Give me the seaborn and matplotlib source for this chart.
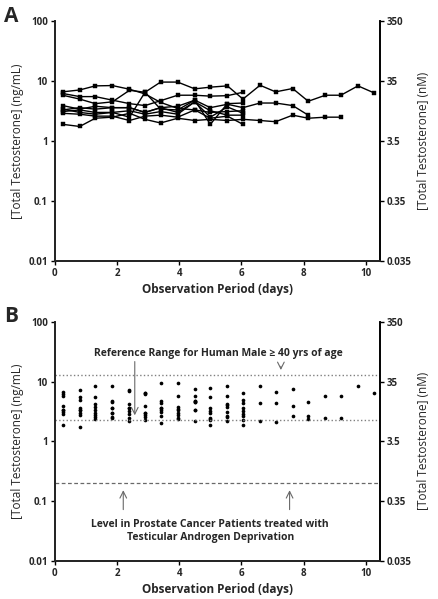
import numpy as np
import pandas as pd
import matplotlib
matplotlib.use("Agg")
import matplotlib.pyplot as plt
import seaborn as sns

sns.set_theme(style="ticks")
plt.rcParams["font.family"] = ["Open Sans", "DejaVu Sans"]
plt.rcParams["font.weight"] = "bold"

# -------------------
# Data
# -------------------
days = [0.25, 0.8, 1.3, 1.85, 2.4, 2.9, 3.4, 3.95, 4.5, 5.0,
        5.55, 6.05, 6.6, 7.1, 7.65, 8.15, 8.7, 9.2, 9.75, 10.25]

# total testosterone (ng/mL) per animal, one list per line
s1 = [3.4, 3.0, 2.8, 3.0, 2.5, 6.5, 9.6, 9.6, 7.4, 7.9, 8.3, 5.0, 8.5, 6.6, 7.5, 4.6, 5.8, 5.8, 8.3, 6.4]
s2 = [6.6, 7.1, 8.3, 8.4, 7.3, 6.1, 4.4, 3.5, 3.3, 3.0, 3.1, 3.2]
s3 = [6.2, 5.5, 5.5, 4.8, 4.2, 3.9, 4.7, 5.8, 5.8, 5.6, 5.7, 6.5]
s4 = [3.9, 3.4, 3.8, 3.6, 3.6, 3.0, 3.6, 3.8, 4.8, 3.6, 4.1, 3.6, 4.3, 4.3, 3.9, 2.7]
s5 = [1.9, 1.75, 2.4, 2.5, 2.9, 2.3, 2.0, 2.4, 2.2, 2.3, 2.2, 2.3, 2.2, 2.1, 2.7, 2.4, 2.5, 2.5]
s6 = [5.8, 5.0, 4.2, 4.5, 7.0, 6.5, 3.4, 3.3, 4.8, 1.9, 4.2, 4.3]
s7 = [3.3, 3.6, 3.4, 3.6, 3.6, 3.0, 3.6, 3.0, 4.5, 2.5, 3.7, 2.9]
s8 = [3.1, 3.3, 3.0, 3.0, 3.2, 2.8, 3.1, 2.8, 4.5, 3.2, 2.7, 2.7]
s9 = [2.9, 2.8, 2.6, 2.6, 2.2, 2.6, 2.7, 2.5, 3.3, 2.4, 2.6, 1.9]
series = [s1, s2, s3, s4, s5, s6, s7, s8, s9]

ref_high = 13.1   # ng/mL
ref_low = 2.3
castrate = 0.2

left_ticks = [0.01, 0.1, 1, 10, 100]
left_labels = ["0.01", "0.1", "1", "10", "100"]
right_ticks = [0.035, 0.35, 3.5, 35, 350]
right_labels = ["0.035", "0.35", "3.5", "35", "350"]
x_ticks = [0, 2, 4, 6, 8, 10]

rows = []
for i, s in enumerate(series):
    for d, v in zip(days, s):
        rows.append({"subject": i, "day": d, "value": v})
df = pd.DataFrame(rows)

# -------------------
# Figure
# -------------------
fig = plt.figure(figsize=(4.39, 5.99), dpi=100)
axA = fig.add_axes([0.125, 0.564, 0.740, 0.401])
axB = fig.add_axes([0.125, 0.0634, 0.740, 0.3995])

fs_tick = 7
fs_label = 8.5


def style_axes(ax):
    ax.set_yscale("log")
    ax.set_ylim(0.01, 100)
    ax.set_xlim(0, 10.45)
    ax.set_yticks(left_ticks)
    ax.set_yticklabels(left_labels)
    ax.yaxis.set_minor_locator(matplotlib.ticker.NullLocator())
    ax.set_xticks(x_ticks)
    ax.set_xticklabels([str(t) for t in x_ticks])
    ax.tick_params(labelsize=fs_tick, length=3, width=1, color="black", pad=2)
    for sp in ["left", "bottom", "right"]:
        ax.spines[sp].set_color("black")
        ax.spines[sp].set_linewidth(1.2)
    ax.spines["top"].set_visible(False)
    ax.set_xlabel("Observation Period (days)", fontsize=fs_label, fontweight="bold", labelpad=3)
    ax.set_ylabel("[Total Testosterone] (ng/mL)", fontsize=fs_label, fontweight="normal", labelpad=3)

    axr = ax.twinx()
    axr.set_yscale("log")
    axr.set_ylim(0.035, 350)
    axr.set_yticks(right_ticks)
    axr.set_yticklabels(right_labels)
    axr.yaxis.set_minor_locator(matplotlib.ticker.NullLocator())
    axr.tick_params(labelsize=fs_tick, length=3, width=1, color="black", pad=2)
    axr.spines["top"].set_visible(False)
    axr.spines["right"].set_color("black")
    axr.spines["right"].set_linewidth(1.2)
    axr.set_ylabel("[Total Testosterone] (nM)", fontsize=fs_label, fontweight="normal", labelpad=4)
    return axr


# Panel A: individual time courses
sns.lineplot(data=df, x="day", y="value", units="subject", estimator=None,
             color="black", linewidth=1.0, marker="s", markersize=2.3,
             markeredgewidth=0.3, markeredgecolor="black", ax=axA, legend=False)
style_axes(axA)

# Panel B: pooled points with reference levels
sns.scatterplot(data=df, x="day", y="value", color="black", s=7,
                linewidth=0, ax=axB, legend=False)
style_axes(axB)

axB.axhline(ref_high, color="gray", linestyle=":", linewidth=1)
axB.axhline(ref_low, color="gray", linestyle=":", linewidth=1)
axB.axhline(castrate, color="dimgray", linestyle="--", linewidth=0.9, dashes=(3, 2))

axB.text(5.25, 29, "Reference Range for Human Male \u2265 40 yrs of age",
         ha="center", va="center", fontsize=7.5, fontweight="bold")
arrow = dict(arrowstyle="->", color="dimgray", lw=0.8)
axB.annotate("", xy=(2.57, 2.45), xytext=(2.57, 24), arrowprops=arrow)
axB.annotate("", xy=(7.27, 14.0), xytext=(7.27, 20), arrowprops=arrow)
axB.annotate("", xy=(2.2, 0.17), xytext=(2.2, 0.065), arrowprops=arrow)
axB.annotate("", xy=(7.55, 0.17), xytext=(7.55, 0.065), arrowprops=arrow)
axB.text(5.0, 0.032, "Level in Prostate Cancer Patients treated with\nTesticular Androgen Deprivation",
         ha="center", va="center", fontsize=7.5, fontweight="bold", linespacing=1.3)

fig.text(0.01, 0.972, "A", fontsize=15, fontweight="bold", va="center")
fig.text(0.01, 0.472, "B", fontsize=15, fontweight="bold", va="center")

fig.savefig("out.png", dpi=100)
